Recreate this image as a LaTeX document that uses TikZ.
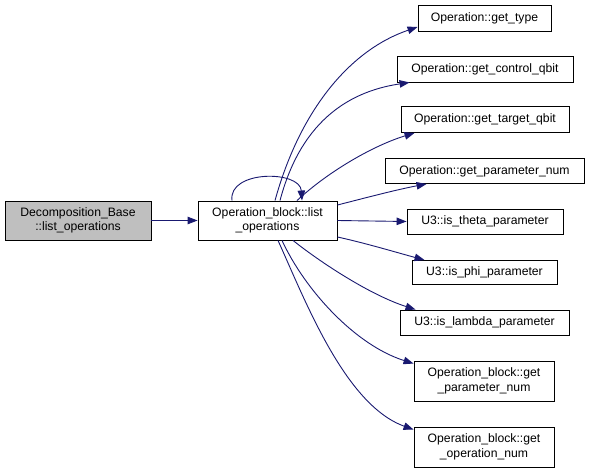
\documentclass[tikz,border=0pt]{standalone}
\usepackage{fontspec}
\setmainfont{Liberation Sans}
\usetikzlibrary{arrows.meta}
\definecolor{edgeblue}{RGB}{25,25,112}
\definecolor{graybox}{RGB}{191,191,191}
\tikzset{
  fn/.style={draw=black, line width=0.9pt, rectangle, inner sep=0pt, align=center,
    font=\fontsize{12.2}{14.5}\selectfont, fill=white},
  conn/.style={draw=edgeblue, line width=0.9pt, -{Triangle[length=10pt,width=7.5pt]}, fill=none},
}
\begin{document}
\begin{tikzpicture}[x=1pt,y=1pt]
\useasboundingbox (0,0) rectangle (589,-473);
\node[fn, fill=graybox, minimum width=146, minimum height=39] (src) at (78,-220.5) {Decomposition\_Base\\::list\_operations};
\node[fn, minimum width=139, minimum height=39] (mid) at (267.5,-220.5) {Operation\_block::list\\\_operations};
\node[fn, minimum width=133, minimum height=26] (n1) at (484.5,-18) {Operation::get\_type};
\node[fn, minimum width=176, minimum height=26] (n2) at (485,-69) {Operation::get\_control\_qbit};
\node[fn, minimum width=168, minimum height=26] (n3) at (485,-119.5) {Operation::get\_target\_qbit};
\node[fn, minimum width=199, minimum height=25] (n4) at (484.5,-171) {Operation::get\_parameter\_num};
\node[fn, minimum width=156, minimum height=25] (n5) at (485,-221.5) {U3::is\_theta\_parameter};
\node[fn, minimum width=145, minimum height=24] (n6) at (484.5,-272.5) {U3::is\_phi\_parameter};
\node[fn, minimum width=169, minimum height=25] (n7) at (484.5,-322.5) {U3::is\_lambda\_parameter};
\node[fn, minimum width=140, minimum height=40] (n8) at (484,-381) {Operation\_block::get\\\_parameter\_num};
\node[fn, minimum width=140, minimum height=40] (n9) at (484,-447) {Operation\_block::get\\\_operation\_num};

\draw[conn] (src.east) -- (mid.west);
\draw[conn] ([xshift=-35.5]mid.north) .. controls (228,-170) and (300,-170) .. ([xshift=34.5]mid.north);
\draw[conn] ([xshift=7.5]mid.north) .. controls (300,-110) and (350,-50) .. ([yshift=-9]n1.west);
\draw[conn] ([xshift=12.5]mid.north) .. controls (300,-125) and (345,-92) .. ([xshift=13]n2.south west);
\draw[conn] ([xshift=29.5]mid.north) .. controls (330,-170) and (375,-145) .. ([xshift=14]n3.south west);
\draw[conn] ([yshift=15.5]mid.east) .. controls (365,-198) and (395,-190) .. ([xshift=42]n4.south west);
\draw[conn] (mid.east) -- (n5.west);
\draw[conn] ([yshift=-16.5]mid.east) .. controls (365,-243) and (395,-252) .. ([xshift=13]n6.north west);
\draw[conn] ([xshift=25.5]mid.south) .. controls (320,-262) and (370,-295) .. ([xshift=16]n7.north west);
\draw[conn] ([xshift=14.5]mid.south) .. controls (305,-290) and (355,-345) .. ([yshift=-3]n8.north west);
\draw[conn] ([xshift=10.5]mid.south) .. controls (305,-300) and (345,-405) .. ([yshift=-3]n9.north west);
\end{tikzpicture}
\end{document}
